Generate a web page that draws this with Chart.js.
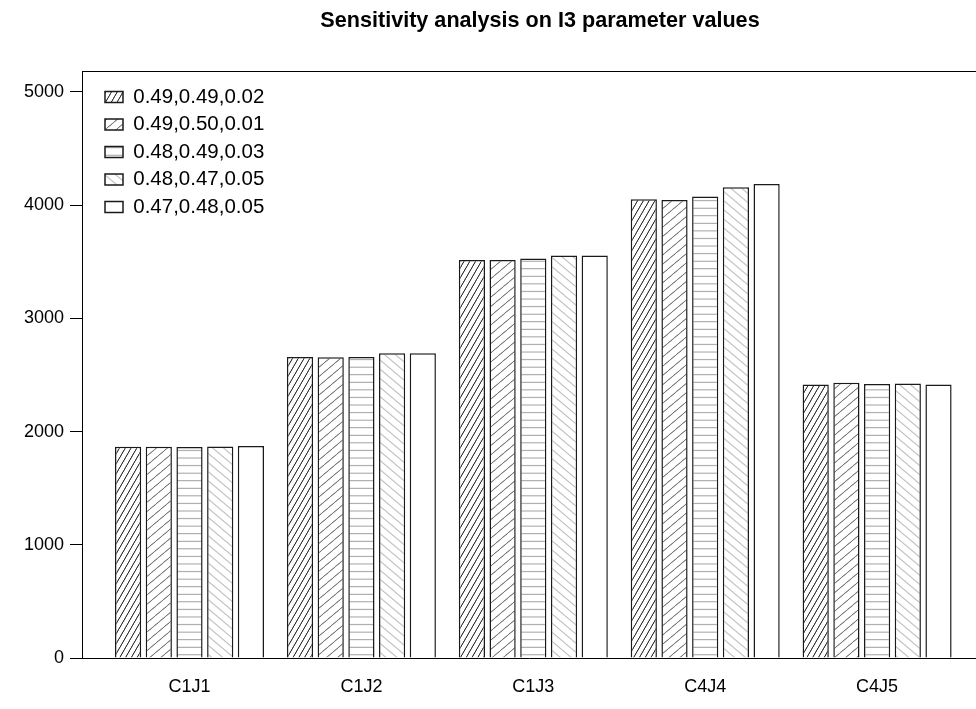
<!DOCTYPE html>
<html>
<head>
<meta charset="utf-8">
<script src="https://cdn.jsdelivr.net/npm/chart.js@4/dist/chart.umd.min.js"></script>
<style>
  html, body { margin: 0; padding: 0; background: #fff; overflow: hidden; }
  #c { display: block; }
</style>
</head>
<body>
<canvas id="c" width="976" height="709"></canvas>
<script>
// Groups along the x axis
const categories = ['C1J1', 'C1J2', 'C1J3', 'C4J4', 'C4J5'];
// Parameter triples, one per series
const seriesLabels = ['0.49,0.49,0.02', '0.49,0.50,0.01', '0.48,0.49,0.03', '0.48,0.47,0.05', '0.47,0.48,0.05'];
// Values per series, in category order
const s1 = [1866, 2660, 3515, 4052, 2415];
const s2 = [1866, 2657, 3515, 4045, 2432];
const s3 = [1864, 2660, 3530, 4076, 2420];
const s4 = [1868, 2692, 3556, 4158, 2426];
const s5 = [1872, 2692, 3556, 4188, 2416];
const yTicks = [0, 1000, 2000, 3000, 4000, 5000];

const FONT = "'Liberation Sans', Arial, Helvetica, sans-serif";
const canvas = document.getElementById('c');
const ctx = canvas.getContext('2d');

// Hatched fill: a tile with one horizontal line, rotated and scaled by the pattern transform
function hatch(rot, spacing, color, width) {
  const tile = document.createElement('canvas');
  tile.width = 8; tile.height = 16;
  const t = tile.getContext('2d');
  t.fillStyle = '#ffffff';
  t.fillRect(0, 0, 8, 16);
  const lw = width * 16 / spacing;
  t.fillStyle = color;
  t.fillRect(0, 8 - lw / 2, 8, lw);
  const p = ctx.createPattern(tile, 'repeat');
  p.setTransform(new DOMMatrix().rotate(rot).scale(1, spacing / 16));
  return p;
}

const fills = [
  hatch(-60, 5.0, '#333333', 1),
  hatch(-40, 7.1, '#7a7a7a', 1),
  hatch(0, 7.57, '#b0b0b0', 1.2),
  hatch(40, 7.0, '#c4c4c4', 1.2),
  '#ffffff'
];

const seriesValues = [s1, s2, s3, s4, s5];
const datasets = seriesValues.map((vals, k) => ({
  label: seriesLabels[k],
  data: vals.map((v, i) => ({ x: i, y: v })),
  backgroundColor: fills[k],
  borderColor: '#1a1a1a',
  borderWidth: 1.5,
  categoryPercentage: 0.893,
  barPercentage: 0.853
}));

// x range leaves a margin left of the first group and runs off the right edge
const X_MIN = -0.6254;
const X_MAX = 4.5753;
const Y_MAX = 5185.5;

const framePlugin = {
  id: 'frame',
  afterLayout(chart) {
    const lg = chart.legend;
    if (lg) {
      lg.left = chart.chartArea.left + 16;
      lg.right = lg.left + lg.width;
      lg.top = chart.chartArea.top + 8.75;
      lg.bottom = lg.top + lg.height;
    }
    const tb = chart.titleBlock;
    if (tb) { tb.left += 52; tb.right += 52; }
  },
  afterDraw(chart) {
    const a = chart.chartArea;
    const c = chart.ctx;
    c.save();
    c.strokeStyle = '#000';
    c.lineWidth = 1;
    c.beginPath();
    c.moveTo(a.left, Math.round(a.top) + 0.5);
    c.lineTo(chart.width, Math.round(a.top) + 0.5);
    c.stroke();
    c.restore();
  }
};

new Chart(ctx, {
  type: 'bar',
  data: { datasets },
  plugins: [framePlugin],
  options: {
    responsive: false,
    animation: false,
    events: [],
    layout: { padding: 0 },
    scales: {
      x: {
        type: 'linear',
        min: X_MIN,
        max: X_MAX,
        offset: false,
        afterBuildTicks: s => { s.ticks = categories.map((c, i) => ({ value: i })); },
        ticks: {
          callback: v => categories[v] ?? '',
          autoSkip: false, maxRotation: 0, minRotation: 0,
          color: '#000', font: { family: FONT, size: 18 }, padding: 10
        },
        grid: { display: false },
        border: { display: true, color: '#000', width: 1 },
        afterFit: s => { s.height = 51; }
      },
      y: {
        min: 0,
        max: Y_MAX,
        afterBuildTicks: s => { s.ticks = yTicks.map(v => ({ value: v })); },
        ticks: {
          callback: v => String(v),
          color: '#000', font: { family: FONT, size: 18 }, padding: 6
        },
        grid: { drawOnChartArea: false, drawTicks: true, tickLength: 12, color: '#000', lineWidth: 1 },
        border: { display: true, color: '#000', width: 1 },
        afterFit: s => { s.width = 82; }
      }
    },
    plugins: {
      legend: {
        position: 'chartArea',
        align: 'start',
        labels: {
          boxWidth: 18, boxHeight: 11, padding: 7,
          color: '#000', font: { family: FONT, size: 20.5 }
        }
      },
      title: {
        display: true,
        text: 'Sensitivity analysis on I3 parameter values',
        color: '#000',
        font: { family: FONT, size: 21.6, weight: 'bold' },
        padding: { top: 8, bottom: 37.08 }
      },
      tooltip: { enabled: false }
    }
  }
});
</script>
</body>
</html>
